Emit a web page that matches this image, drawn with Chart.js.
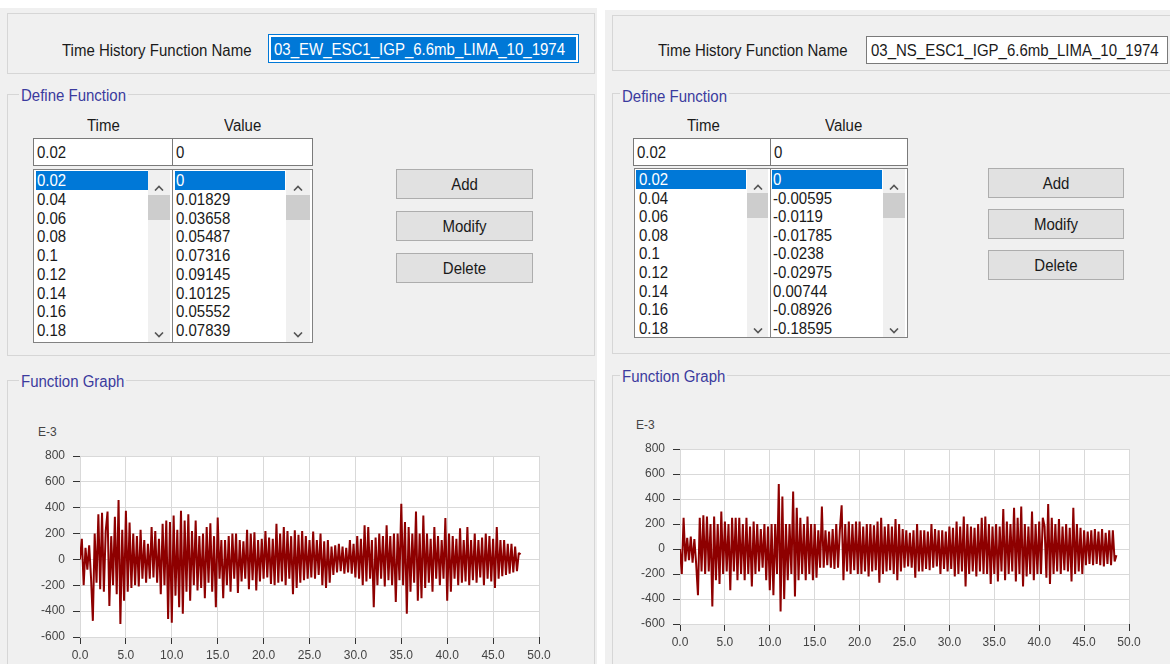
<!DOCTYPE html>
<html><head><meta charset="utf-8">
<script src="https://cdn.jsdelivr.net/npm/chart.js@4.4.1/dist/chart.umd.min.js"></script>
<style>
html,body{margin:0;padding:0}
body{width:1170px;height:664px;position:relative;overflow:hidden;background:#fff;font-family:"Liberation Sans",Arial,sans-serif;color:#1a1a1a}
.panel{position:absolute;background:#f0f0f0}
.box{position:absolute;border:1px solid #d6d6d6;box-sizing:border-box}
.t{position:absolute;white-space:nowrap;font-size:15px;line-height:20px;height:20px}
.s{display:inline-block;transform:scaleY(1.15);transform-origin:center}
.grp{color:#3b3b9e;background:#f0f0f0;padding:0 2px}
.inp{position:absolute;background:#fff;border:1px solid #7a7a7a;box-sizing:border-box;font-size:15px;padding-left:3px;white-space:nowrap}
.list{position:absolute;background:#fff;border:1px solid #828282;box-sizing:border-box;overflow:hidden}
.item{position:absolute;left:3px;font-size:15px;white-space:nowrap}
.sel{position:absolute;background:#0078d7}
.sb{position:absolute;top:0;bottom:0;background:#f0f0f0}
.thumb{position:absolute;left:0;right:0;background:#cdcdcd}
.chev{position:absolute;left:50%;margin-left:-5px}
.btn{position:absolute;background:#e1e1e1;border:1px solid #adadad;box-sizing:border-box;text-align:center;font-size:15px}
canvas{position:absolute}
.ax{position:absolute;font-size:12px;color:#444;line-height:14px;white-space:nowrap}
</style></head>
<body>
<!-- left panel -->
<div class="panel" style="left:0;top:8px;width:597px;height:656px"></div>
<div class="box" style="left:7px;top:13px;width:588px;height:61px"></div>
<div class="t" style="left:62px;top:40px"><span class="s">Time History Function Name</span></div>
<div class="inp" style="left:268px;top:34px;width:311px;height:29px;border-color:#0078d7;padding:0">
  <div style="position:absolute;left:2px;top:2px;right:2px;bottom:2px;background:#0078d7;color:#fff;line-height:23px;padding-left:3px"><span class="s">03_EW_ESC1_IGP_6.6mb_LIMA_10_1974</span></div>
</div>
<div class="box" style="left:7px;top:94px;width:588px;height:262px"></div>
<div class="t grp" style="left:19px;top:85px"><span class="s">Define Function</span></div>
<div class="t" style="left:87px;top:115px"><span class="s">Time</span></div>
<div class="t" style="left:224px;top:115px"><span class="s">Value</span></div>
<div class="inp" style="left:33px;top:138px;width:140px;height:28px;line-height:26px"><span class="s">0.02</span></div>
<div class="inp" style="left:172px;top:138px;width:141px;height:28px;line-height:26px"><span class="s">0</span></div>
<div class="list" id="lt1" style="left:33px;top:169px;width:140px;height:174px"></div>
<div class="list" id="lv1" style="left:172px;top:169px;width:141px;height:174px"></div>
<div class="btn" style="left:396px;top:169px;width:137px;height:30px;line-height:28px"><span class="s">Add</span></div>
<div class="btn" style="left:396px;top:211px;width:137px;height:30px;line-height:28px"><span class="s">Modify</span></div>
<div class="btn" style="left:396px;top:253px;width:137px;height:30px;line-height:28px"><span class="s">Delete</span></div>
<div class="box" style="left:7px;top:380px;width:588px;height:300px"></div>
<div class="t grp" style="left:19px;top:371px"><span class="s">Function Graph</span></div>
<div class="ax" style="left:38px;top:425px">E-3</div>
<canvas id="c1" width="560" height="224" style="left:0;top:440px"></canvas>

<!-- right panel -->
<div class="panel" style="left:605px;top:10px;width:565px;height:654px"></div>
<div class="box" style="left:612px;top:15px;width:560px;height:56px"></div>
<div class="t" style="left:658px;top:40px"><span class="s">Time History Function Name</span></div>
<div class="inp" style="left:866px;top:36px;width:302px;height:28px;line-height:26px;padding-left:4px"><span class="s">03_NS_ESC1_IGP_6.6mb_LIMA_10_1974</span></div>
<div class="box" style="left:612px;top:93px;width:560px;height:261px"></div>
<div class="t grp" style="left:620px;top:86px"><span class="s">Define Function</span></div>
<div class="t" style="left:687px;top:115px"><span class="s">Time</span></div>
<div class="t" style="left:825px;top:115px"><span class="s">Value</span></div>
<div class="inp" style="left:633px;top:138px;width:138px;height:28px;line-height:26px"><span class="s">0.02</span></div>
<div class="inp" style="left:770px;top:138px;width:138px;height:28px;line-height:26px"><span class="s">0</span></div>
<div class="list" id="lt2" style="left:634px;top:168px;width:137px;height:170px"></div>
<div class="list" id="lv2" style="left:770px;top:168px;width:138px;height:170px"></div>
<div class="btn" style="left:988px;top:168px;width:136px;height:30px;line-height:28px"><span class="s">Add</span></div>
<div class="btn" style="left:988px;top:209px;width:136px;height:30px;line-height:28px"><span class="s">Modify</span></div>
<div class="btn" style="left:988px;top:250px;width:136px;height:30px;line-height:28px"><span class="s">Delete</span></div>
<div class="box" style="left:612px;top:375px;width:560px;height:300px"></div>
<div class="t grp" style="left:620px;top:366px"><span class="s">Function Graph</span></div>
<div class="ax" style="left:636px;top:418px">E-3</div>
<canvas id="c2" width="550" height="221" style="left:600px;top:430px"></canvas>

<script>
// ---- list contents shown in the dialogs ----
const timeList = ["0.02","0.04","0.06","0.08","0.1","0.12","0.14","0.16","0.18"];
const ewValueList = ["0","0.01829","0.03658","0.05487","0.07316","0.09145","0.10125","0.05552","0.07839"];
const nsValueList = ["0","-0.00595","-0.0119","-0.01785","-0.0238","-0.02975","0.00744","-0.08926","-0.18595"];

// ---- function graph data (E-3 units), values every 0.2 s ----
const sampleStep = 0.2;
const ewValues = [
 0,160,-200,90,-80, 110,-140,-475,200,-180, 350,-230,360,-250,220, 370,-360,180,-200,330,
 -270,460,-500,230,-320, 377,-250,285,-220,200, -200,180,-210,230,-150, 150,-180,120,-150,250,
 -140,220,-180,160,-270, 275,-200,300,-460,290, -490,340,-280,230,-370, 377,-420,300,-250,350,
 -320,220,-200,300,-240, 180,-220,200,-300,250, -180,280,-250,180,-370, 325,-150,150,-300,150,
 -200,180,-250,200,-150, 200,-260,150,-170,140, -150,230,-230,200,-160, 210,-240,150,-170,160,
 -150,220,-140,170,-190, 160,-200,275,-180,200, -170,250,-200,220,-150, 180,-270,225,-220,190,
 -180,220,-160,180,-150, 150,-140,215,-150,150, -120,200,-200,140,-220, 150,-180,100,-120,110,
 -100,120,-90,100,-110, 90,-100,150,-110,120, -140,180,-150,160,-200, 265,-170,250,-150,150,
 -370,170,-200,200,-150, 180,-210,265,-160,180, -200,200,-330,200,-160, 430,-200,290,-420,250,
 -250,200,-180,370,-320, 200,-300,340,-220,200, -180,160,-250,250,-150, 180,-200,150,-150,320,
 -320,200,-250,180,-150, 160,-200,240,-180,150, -170,250,-200,150,-160, 200,-180,150,-140,170,
 -200,200,-150,180,-170, 160,-220,250,-150,150, -130,150,-120,120,-110, 120,-100,100,-90,50,
 40
];
const nsValues = [
 0,-200,250,-100,90, -90,100,-110,80,-120, -370,250,-180,270,-200, 260,-180,200,-460,260,
 -250,200,-280,300,-200, 220,-180,200,-330,250, -180,250,-250,250,-200, 200,-250,250,-200,180,
 -300,220,-200,200,-180, 160,-150,200,-250,180, -330,200,-370,200,-200, 520,-500,420,-400,200,
 -250,200,-200,460,-380, 330,-250,250,-200,200, -250,260,-200,200,-250, 200,-230,150,-150,340,
 -150,150,-130,140,-150, 160,-160,200,-150,150, 350,-250,200,-180,220, -200,200,-170,220,-200,
 220,-200,180,-180,200, -220,200,-180,190,-170, 220,-270,250,-200,180, -180,200,-170,180,-200,
 240,-250,200,-180,160, -150,150,-140,130,-150, 150,-230,200,-180,150, -180,150,-160,140,-170,
 200,-150,160,-140,150, -200,150,-160,140,-180, 180,-160,170,-220,220, -200,180,-180,260,-300,
 200,-200,180,-180,170, -220,200,-180,250,-200, 260,-200,200,-280,180, -200,200,-260,180,-180,
 320,-250,220,-200,200, -180,330,-260,250,-200, 340,-300,200,-220,180, -200,300,-250,200,-200,
 220,-200,250,180,-230, 360,-280,250,-200,200, -180,240,-200,180,-170, 200,-180,170,-260,330,
 -200,200,-180,170,-200, 150,-130,140,-120,150, -130,160,-120,140,-130, 160,-140,130,-120,150,
 -130,150,-100,-50
];
const xTickMin = 0, xTickMax = 50, xTickStep = 5;
const yTickMin = -600, yTickMax = 800, yTickStep = 200;

// ---- list boxes ----
function chevron(up){
  return '<svg width="10" height="6" viewBox="0 0 10 6"><polyline points="'+(up?'1,5.5 5,1.5 9,5.5':'1,0.5 5,4.5 9,0.5')+'" fill="none" stroke="#555" stroke-width="1.6"/></svg>';
}
function buildList(id, items, o){
  const el = document.getElementById(id);
  const sel = document.createElement('div');
  sel.className='sel';
  Object.assign(sel.style,{left:o.selL+'px',top:o.top0+'px',width:o.selW+'px',height:o.rowH+'px'});
  el.appendChild(sel);
  items.forEach((txt,k)=>{
    const d=document.createElement('div');
    d.className='item';
    d.style.left=o.textL+'px';
    d.style.top=(o.top0+k*o.rowH)+'px';
    d.style.height=o.rowH+'px';
    d.style.lineHeight=o.rowH+'px';
    if(k===0) d.style.color='#fff';
    d.innerHTML='<span class="s">'+txt+'</span>';
    el.appendChild(d);
  });
  const sb=document.createElement('div');
  sb.className='sb';
  sb.style.left=o.sbL+'px'; sb.style.width=o.sbW+'px';
  sb.innerHTML='<div class="chev" style="top:'+(o.top0+6)+'px">'+chevron(true)+'</div>'+
    '<div class="thumb" style="top:'+o.thT+'px;height:'+o.thH+'px"></div>'+
    '<div class="chev" style="top:'+o.dnT+'px">'+chevron(false)+'</div>';
  el.appendChild(sb);
}
buildList('lt1', timeList,   {rowH:18.75, top0:1, selL:2, selW:112, textL:3, sbL:114, sbW:22, thT:25, thH:25, dnT:154});
buildList('lv1', ewValueList,{rowH:18.75, top0:1, selL:2, selW:110, textL:3, sbL:113, sbW:24, thT:25, thH:25, dnT:154});
buildList('lt2', timeList,   {rowH:18.6, top0:1, selL:1, selW:110, textL:4, sbL:112, sbW:21, thT:24, thH:25, dnT:151});
buildList('lv2', nsValueList,{rowH:18.6, top0:1, selL:1, selW:110, textL:2, sbL:112, sbW:22, thT:24, thH:25, dnT:151});

// ---- charts ----
const plotBg = {id:'plotBg', beforeDraw(c){const a=c.chartArea, x=c.ctx; x.save(); x.fillStyle='#ffffff'; x.fillRect(a.left,a.top,a.right-a.left,a.bottom-a.top); x.restore();}};
function makeChart(id, values, padTop){
  const pts = values.map((v,i)=>({x: Math.round(i*sampleStep*100)/100, y: v}));
  const tickFont = {family:'"Liberation Sans", Arial, sans-serif', size:12};
  return new Chart(document.getElementById(id), {
    type:'line',
    data:{datasets:[{data:pts, borderColor:'#8e0000', borderWidth:2, borderJoinStyle:'bevel', pointRadius:0, tension:0, fill:false}]},
    options:{
      responsive:false, animation:false, devicePixelRatio:1, parsing:false, normalized:true,
      layout:{padding:{top:padTop, right:21, bottom:0, left:0}},
      plugins:{legend:{display:false}, tooltip:{enabled:false}, title:{display:false}},
      scales:{
        x:{type:'linear', min:xTickMin, max:xTickMax,
           afterFit:s=>{s.height=27;},
           border:{display:false},
           grid:{color:'#d9d9d9', lineWidth:1, tickColor:'#333', tickLength:7, drawTicks:true},
           ticks:{stepSize:xTickStep, autoSkip:false, maxRotation:0, padding:4, color:'#444', font:tickFont,
                  callback:v=>Number(v).toFixed(1)}},
        y:{type:'linear', min:yTickMin, max:yTickMax,
           afterFit:s=>{s.width=80;},
           border:{display:false},
           grid:{color:'#d9d9d9', lineWidth:1, tickColor:'#333', tickLength:7, drawTicks:true},
           ticks:{stepSize:yTickStep, padding:8, color:'#444', font:tickFont}}
      }
    },
    plugins:[plotBg]
  });
}
makeChart('c1', ewValues, 16);
makeChart('c2', nsValues, 19);
</script>
</body></html>
